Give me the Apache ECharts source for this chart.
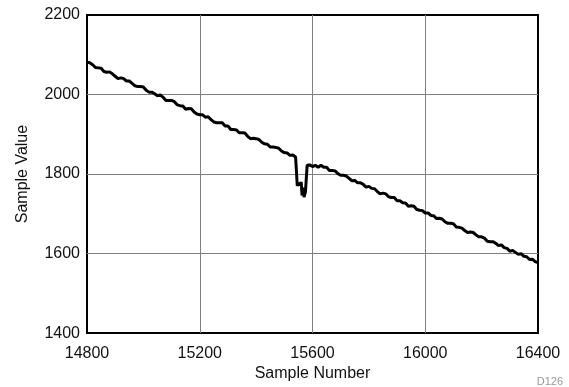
<!DOCTYPE html>
<html>
<head>
<meta charset="utf-8">
<script src="https://cdn.jsdelivr.net/npm/echarts@6/dist/echarts.min.js"></script>
<style>
html,body{margin:0;padding:0;background:#fff;}
#chart{width:569px;height:387px;}
</style>
</head>
<body>
<div id="chart"></div>
<script>
// Tick labels
const xTicks = [14800, 15200, 15600, 16000, 16400];
const yTicks = [1400, 1600, 1800, 2000, 2200];

// Sample numbers (x) and sample values (y)
const sampleNumbers = [
14800,14810,14820,14830,14840,14850,14860,14870,14880,14890,
14900,14910,14920,14930,14940,14950,14960,14970,14980,14990,
15000,15010,15020,15030,15040,15050,15060,15070,15080,15090,
15100,15110,15120,15130,15140,15150,15160,15170,15180,15190,
15200,15210,15220,15230,15240,15250,15260,15270,15280,15290,
15300,15310,15320,15330,15340,15350,15360,15370,15380,15390,
15400,15410,15420,15430,15440,15450,15460,15470,15480,15490,
15500,15510,15520,15530,15540,15544,15546,15550,15555,15560,
15563,15566,15570,15575,15579,15581,15585,15590,15600,15610,
15620,15630,15640,15650,15660,15670,15680,15690,15700,15710,
15720,15730,15740,15750,15760,15770,15780,15790,15800,15810,
15820,15830,15840,15850,15860,15870,15880,15890,15900,15910,
15920,15930,15940,15950,15960,15970,15980,15990,16000,16010,
16020,16030,16040,16050,16060,16070,16080,16090,16100,16110,
16120,16130,16140,16150,16160,16170,16180,16190,16200,16210,
16220,16230,16240,16250,16260,16270,16280,16290,16300,16310,
16320,16330,16340,16350,16360,16370,16380,16390,16400
];
const sampleValues = [
2081,2080,2075,2068,2067,2066,2058,2056,2057,2052,
2046,2040,2042,2040,2034,2034,2028,2022,2020,2020,
2019,2011,2006,2006,2002,1997,1999,1993,1985,1985,
1985,1982,1974,1972,1971,1963,1965,1964,1956,1951,
1949,1949,1943,1944,1937,1931,1929,1929,1929,1921,
1921,1912,1912,1911,1904,1904,1903,1895,1889,1890,
1889,1887,1880,1876,1875,1868,1868,1867,1865,1858,
1854,1853,1847,1848,1843,1841,1770,1778,1772,1780,
1746,1766,1742,1755,1752,1822,1818,1823,1819,1822,
1817,1822,1817,1817,1809,1809,1808,1801,1797,1797,
1795,1789,1783,1784,1778,1778,1774,1767,1769,1764,
1763,1756,1750,1752,1750,1743,1741,1741,1733,1733,
1728,1727,1719,1720,1719,1711,1709,1708,1702,1702,
1696,1695,1688,1689,1687,1680,1676,1676,1675,1667,
1666,1664,1658,1653,1654,1653,1647,1642,1642,1639,
1631,1630,1630,1626,1620,1622,1615,1613,1606,1608,
1603,1598,1600,1593,1592,1585,1586,1580,1577
];

const points = sampleNumbers.map((x, i) => [x, sampleValues[i]]);
const font = '"Liberation Sans", Arial, Helvetica, sans-serif';

const chart = echarts.init(document.getElementById('chart'), null, {renderer: 'canvas'});
chart.setOption({
  animation: false,
  backgroundColor: '#fff',
  grid: {
    left: 87, right: 31, top: 15, bottom: 51,
    show: true, borderColor: '#000', borderWidth: 2, backgroundColor: 'transparent'
  },
  xAxis: {
    type: 'value',
    min: xTicks[0], max: xTicks[xTicks.length - 1], interval: 400,
    name: 'Sample Number', nameLocation: 'middle', nameGap: 29,
    nameTextStyle: {fontFamily: font, fontSize: 16, color: '#111'},
    axisLine: {show: false},
    axisTick: {show: false},
    axisLabel: {fontFamily: font, fontSize: 16, color: '#111', margin: 12, formatter: v => String(v)},
    splitLine: {show: true, showMinLine: false, showMaxLine: false, lineStyle: {color: '#808080', width: 1}}
  },
  yAxis: {
    type: 'value',
    min: yTicks[0], max: yTicks[yTicks.length - 1], interval: 200,
    name: 'Sample Value', nameLocation: 'middle', nameGap: 56, nameRotate: 90,
    nameTextStyle: {fontFamily: font, fontSize: 16, color: '#111'},
    axisLine: {show: false},
    axisTick: {show: false},
    axisLabel: {fontFamily: font, fontSize: 16, color: '#111', margin: 7, formatter: v => String(v)},
    splitLine: {show: true, showMinLine: false, showMaxLine: false, lineStyle: {color: '#808080', width: 1}}
  },
  graphic: [{
    type: 'text', right: 6, bottom: 0,
    style: {text: 'D126', fontFamily: font, fontSize: 11, fill: '#999'}
  }],
  series: [{
    type: 'line',
    data: points,
    showSymbol: false,
    lineStyle: {color: '#000', width: 3},
    z: 3
  }]
});
</script>
</body>
</html>
